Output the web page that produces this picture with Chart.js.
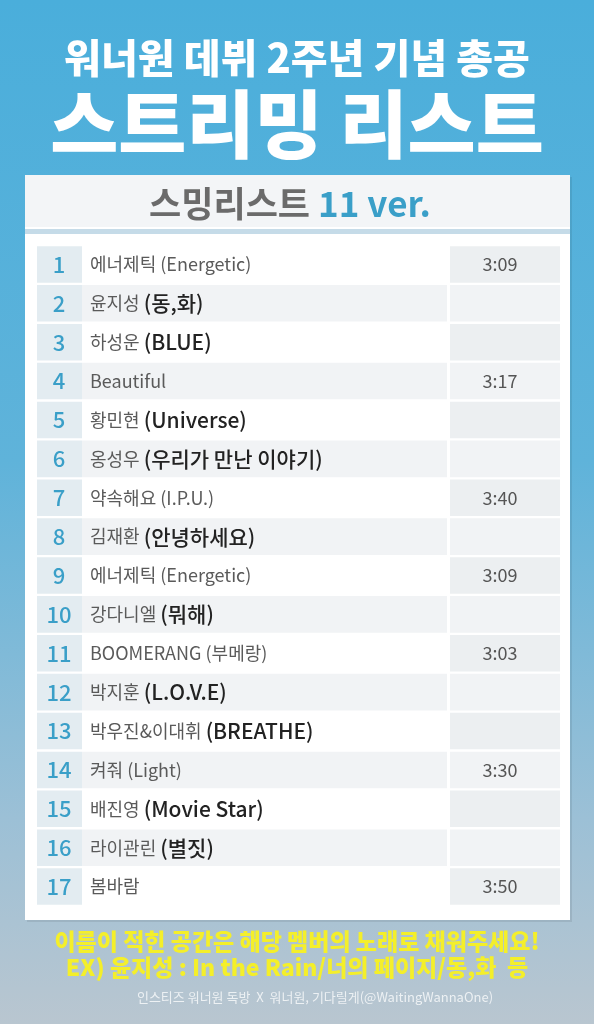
<!DOCTYPE html>
<html>
<head>
<meta charset="utf-8">
<script src="https://cdn.jsdelivr.net/npm/chart.js@4.4.1/dist/chart.umd.min.js"></script>
<style>
  html, body { margin: 0; padding: 0; }
  body { width: 594px; height: 1024px; background: linear-gradient(180deg, #4aaedb 0%, #5fb3da 45%, #9cc0d6 80%, #b9c6d0 100%); }
  #wrap { position: absolute; left: 0; top: 0; width: 594px; height: 1024px; }
</style>
</head>
<body>
<div id="wrap"><canvas id="list"></canvas></div>
<script>
var ranks = ['1','2','3','4','5','6','7','8','9','10','11','12','13','14','15','16','17'];
var songPrefix = ['에너제틱 (Energetic)', '윤지성 ', '하성운 ', 'Beautiful', '황민현 ', '옹성우 ', '약속해요 (I.P.U.)', '김재환 ', '에너제틱 (Energetic)', '강다니엘 ', 'BOOMERANG (부메랑)', '박지훈 ', '박우진&이대휘 ', '켜줘 (Light)', '배진영 ', '라이관린 ', '봄바람'];
var songBold = ['', '(동,화)', '(BLUE)', '', '(Universe)', '(우리가 만난 이야기)', '', '(안녕하세요)', '', '(뭐해)', '', '(L.O.V.E)', '(BREATHE)', '', '(Movie Star)', '(별짓)', ''];
var times = ['3:09', '', '', '3:17', '', '', '3:40', '', '3:09', '', '3:03', '', '', '3:30', '', '', '3:50'];

var FONT = '"Noto Sans CJK KR", "Noto Sans", sans-serif';

function cells(a, b) { return ranks.map(function () { return [a, b]; }); }

var panelPlugin = {
    id: 'panel',
    beforeDraw: function (chart) {
        var c = chart.ctx;
        c.save();
        c.fillStyle = 'rgba(0,0,0,0.08)';
        c.fillRect(27, 177, 545, 745);
        c.fillStyle = '#ffffff';
        c.fillRect(25, 175, 545, 745);
        c.fillStyle = '#f3f5f7';
        c.fillRect(25, 175, 545, 52);
        c.fillStyle = '#c5dbe8';
        c.fillRect(25, 229, 545, 5);
        c.textAlign = 'center';
        c.textBaseline = 'middle';
        c.fillStyle = '#ffffff';
        c.font = '900 40px ' + FONT;
        c.fillText('워너원 데뷔 2주년 기념 총공', 297, 58);
        c.font = '900 74px ' + FONT;
        c.fillText('스트리밍 리스트', 297, 124);
        c.font = 'bold 35px ' + FONT;
        var a = '스밍리스트 ', b = '11 ver.';
        var wa = c.measureText(a).width, wb = c.measureText(b).width;
        var x0 = 290 - (wa + wb) / 2;
        c.textAlign = 'left';
        c.fillStyle = '#6b6b6b';
        c.fillText(a, x0, 204);
        c.fillStyle = '#3a9fc8';
        c.fillText(b, x0 + wa, 204);
        c.restore();
    },
    afterDatasetsDraw: function (chart) {
        var c = chart.ctx, y = chart.scales.y, x = chart.scales.x;
        c.save();
        c.textBaseline = 'middle';
        ranks.forEach(function (r, i) {
            var py = y.getPixelForValue(i);
            c.textAlign = 'center';
            c.fillStyle = '#3a9fc8';
            c.font = '500 22px ' + FONT;
            c.fillText(r, x.getPixelForValue(22), py);
            c.textAlign = 'left';
            c.fillStyle = '#5a5a5a';
            c.font = '18px ' + FONT;
            var sx = x.getPixelForValue(53);
            c.fillText(songPrefix[i], sx, py);
            if (songBold[i]) {
                var w = c.measureText(songPrefix[i]).width;
                c.fillStyle = '#222222';
                c.font = '500 21px ' + FONT;
                c.fillText(songBold[i], sx + w, py);
            }
            if (times[i]) {
                c.textAlign = 'center';
                c.fillStyle = '#555555';
                c.font = '18px ' + FONT;
                c.fillText(times[i], x.getPixelForValue(463), py);
            }
        });
        c.textAlign = 'center';
        c.fillStyle = '#f4ef2a';
        c.font = '900 23px ' + FONT;
        c.fillText('이름이 적힌 공간은 해당 멤버의 노래로 채워주세요!', 297, 941);
        c.fillText('EX) 윤지성 : In the Rain/너의 페이지/동,화  등', 297, 967);
        c.fillStyle = 'rgba(255,255,255,0.75)';
        c.font = '13px ' + FONT;
        c.fillText('인스티즈 워너원 독방  X  워너원, 기다릴게(@WaitingWannaOne)', 315, 997);
        c.restore();
    }
};

new Chart(document.getElementById('list').getContext('2d'), {
    type: 'bar',
    data: {
        labels: ranks,
        datasets: [{
            data: cells(0, 45),
            backgroundColor: '#e3ecf1'
        }, {
            data: cells(45, 410),
            backgroundColor: ranks.map(function (r, i) { return i % 2 ? '#f1f3f5' : '#ffffff'; })
        }, {
            data: cells(413, 523),
            backgroundColor: ranks.map(function (r, i) { return i % 2 ? '#f1f3f5' : '#eceff1'; })
        }]
    },
    options: {
        indexAxis: 'y',
        responsive: true,
        maintainAspectRatio: false,
        animation: false,
        layout: { padding: { left: 37, right: 34, top: 245, bottom: 118 } },
        datasets: { bar: { grouped: false, barPercentage: 0.94, categoryPercentage: 1 } },
        scales: {
            x: { display: false, min: 0, max: 523 },
            y: { display: false }
        },
        plugins: { legend: { display: false }, tooltip: { enabled: false } }
    },
    plugins: [panelPlugin]
});
</script>
</body>
</html>
